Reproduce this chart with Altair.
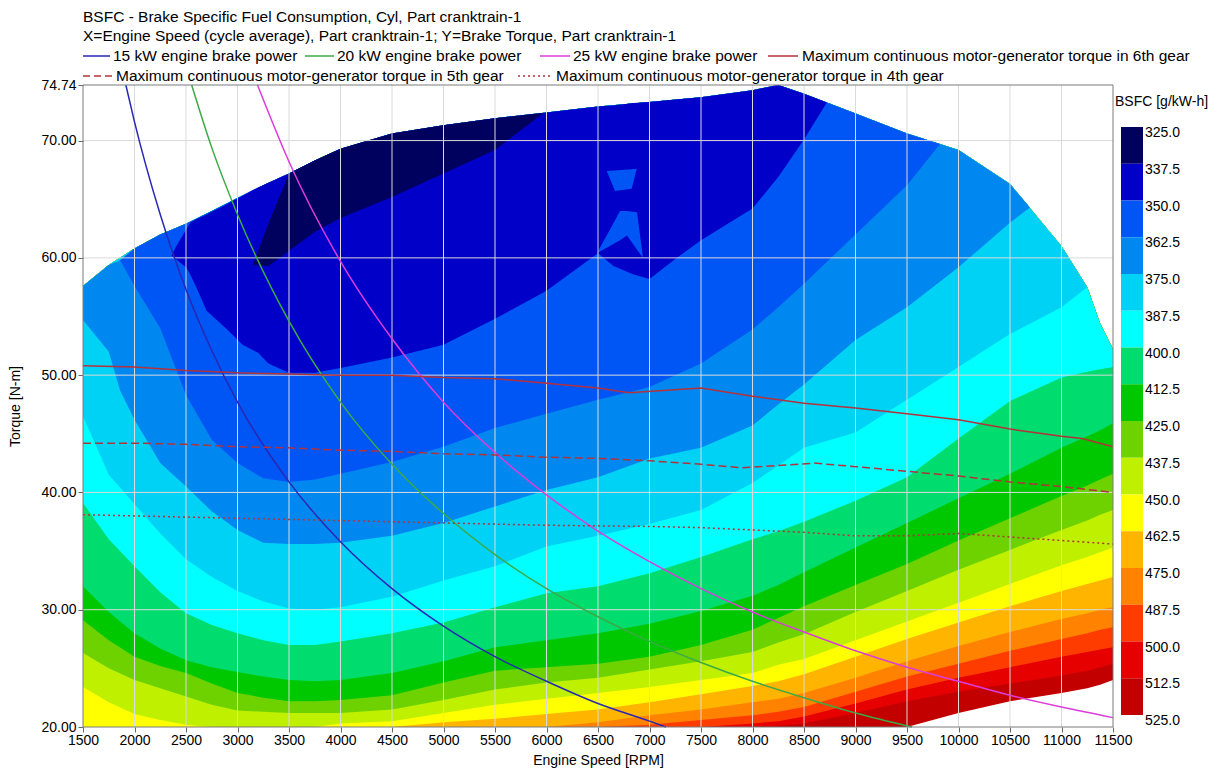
import altair as alt
import pandas as pd

FONT = "Liberation Sans"
PLOT_W, PLOT_H = 1030, 642

# ---------------- axes ----------------
X_TICKS = [1500, 2000, 2500, 3000, 3500, 4000, 4500, 5000, 5500, 6000, 6500,
           7000, 7500, 8000, 8500, 9000, 9500, 10000, 10500, 11000, 11500]
Y_TICKS = [20.0, 30.0, 40.0, 50.0, 60.0, 70.0, 74.74]

# ---------------- colour bar (BSFC g/kW-h) ----------------
LEVELS = [325.0, 337.5, 350.0, 362.5, 375.0, 387.5, 400.0, 412.5, 425.0,
          437.5, 450.0, 462.5, 475.0, 487.5, 500.0, 512.5, 525.0]
COLORS = ["#00005F", "#0000C8", "#0055F5", "#0088F0", "#00D2F5", "#00FFFF",
          "#00DC6E", "#00C800", "#6ED200", "#BEF000", "#FFFF00", "#FFB400",
          "#FF8200", "#FF3C00", "#E60000", "#C30000"]

# ---------------- band boundaries ----------------
RPM = [1500, 1750, 2000, 2250, 2500, 2750, 3000, 3250, 3500, 3750, 4000, 4500,
       5000, 5500, 6000, 6500, 7000, 7500, 8000, 8250, 8500, 9000, 9500, 10000,
       10500, 11000, 11250, 11375, 11500]
ENVELOPE = [57.6, 59.4, 60.8, 62.0, 62.9, 64.0, 65.1, 66.2, 67.2, 68.3, 69.3, 70.6,
            71.3, 71.9, 72.4, 72.9, 73.3, 73.7, 74.3, 74.74, 74.0, 72.3, 70.6, 69.2,
            66.3, 61.0, 57.5, 54.4, 52.2]
FLOOR = [20.0, 20.0, 20.0, 20.0, 20.0, 20.0, 20.0, 20.0, 20.0, 20.0, 20.0, 20.0,
         20.0, 20.0, 20.0, 20.0, 20.0, 20.0, 20.0, 20.0, 20.0, 20.0, 20.0, 21.2,
         22.2, 22.9, 23.3, 23.6, 24.0]
L512 = [20.0, 20.0, 20.0, 20.0, 20.0, 20.0, 20.0, 20.0, 20.0, 20.0, 20.0, 20.0,
        20.0, 20.0, 20.0, 20.0, 20.0, 20.0, 20.0, 20.1, 20.3, 21.2, 22.2, 23.0,
        23.7, 24.4, 24.8, 25.1, 25.4]
L500 = [20.0, 20.0, 20.0, 20.0, 20.0, 20.0, 20.0, 20.0, 20.0, 20.0, 20.0, 20.0,
        20.0, 20.0, 20.0, 20.0, 20.0, 20.0, 20.3, 20.5, 20.9, 22.0, 23.2, 24.2,
        25.1, 26.0, 26.4, 26.6, 26.8]
L487 = [20.0, 20.0, 20.0, 20.0, 20.0, 20.0, 20.0, 20.0, 20.0, 20.0, 20.0, 20.0,
        20.0, 20.0, 20.0, 20.0, 20.2, 20.6, 21.0, 21.3, 21.7, 23.0, 24.3, 25.4,
        26.5, 27.5, 28.0, 28.3, 28.5]
L475 = [20.0, 20.0, 20.0, 20.0, 20.0, 20.0, 20.0, 20.0, 20.0, 20.0, 20.0, 20.0,
        20.0, 20.0, 20.0, 20.4, 21.0, 21.5, 22.1, 22.4, 22.9, 24.2, 25.6, 26.9,
        28.1, 29.2, 29.7, 30.0, 30.2]
L462 = [20.0, 20.0, 20.0, 20.0, 20.0, 20.0, 20.0, 20.0, 20.0, 20.0, 20.0, 20.0,
        20.4, 20.7, 21.1, 21.5, 22.1, 22.8, 23.5, 23.9, 24.5, 26.0, 27.5, 28.9,
        30.3, 31.6, 32.2, 32.5, 32.8]
L450 = [23.4, 22.1, 21.1, 20.6, 20.2, 20.0, 20.0, 20.0, 20.0, 20.0, 20.3, 20.5,
        21.2, 21.9, 22.4, 22.9, 23.4, 24.0, 24.6, 25.3, 25.8, 27.4, 29.0, 30.6,
        32.2, 33.8, 34.5, 34.9, 35.3]
L437 = [26.3, 25.0, 24.0, 23.3, 22.6, 21.9, 21.4, 21.3, 21.2, 21.2, 21.2, 21.5,
        22.3, 23.2, 23.8, 24.2, 24.9, 25.6, 26.4, 27.2, 27.9, 29.8, 31.6, 33.4,
        35.1, 36.8, 37.6, 38.1, 38.5]
L425 = [29.1, 27.4, 26.0, 25.2, 24.6, 23.7, 22.9, 22.5, 22.2, 22.2, 22.3, 22.7,
        23.8, 24.8, 25.1, 25.4, 26.0, 27.0, 28.3, 29.3, 30.3, 32.1, 33.9, 35.9,
        37.8, 39.7, 40.6, 41.1, 41.6]
L412 = [32.0, 29.8, 28.0, 26.7, 25.7, 25.1, 24.7, 24.3, 24.0, 23.9, 24.0, 24.6,
        25.6, 26.8, 27.4, 28.0, 28.8, 29.9, 31.2, 32.1, 33.2, 35.3, 37.4, 39.5,
        41.6, 43.8, 44.8, 45.3, 45.9]
L400 = [39.1, 36.0, 33.7, 31.5, 29.7, 28.7, 28.0, 27.4, 27.0, 27.0, 27.3, 28.0,
        28.9, 30.2, 31.4, 32.0, 33.1, 34.5, 36.0, 36.7, 37.5, 39.3, 41.3, 44.6,
        47.8, 49.8, 50.3, 50.5, 50.7]
L387 = [46.5, 41.5, 39.0, 36.5, 34.3, 32.8, 31.6, 30.7, 30.1, 30.0, 30.2, 31.1,
        32.5, 33.7, 35.4, 36.3, 37.3, 38.5, 40.8, 42.3, 43.8, 45.1, 47.9, 50.7,
        53.5, 55.8, 57.5]

R375_RPM = [1500, 1750, 1860, 2000, 2250, 2500, 2750, 3000, 3250, 3500, 3750, 4000,
            4500, 5000, 5500, 6000, 6500, 7000, 7500, 8000, 8250, 8500, 9000, 9500,
            10000, 10500, 10694]
R375_LO = [54.7, 52.0, 48.7, 46.2, 42.5, 40.5, 38.4, 36.8, 35.7, 35.6, 35.6, 35.7,
           36.3, 37.4, 38.8, 40.2, 41.3, 42.9, 43.8, 45.7, 47.5, 49.2, 53.0, 55.8,
           59.2, 63.0, 64.3]
R375_HI = [57.6, 59.4, 59.8, 60.8, 62.0, 62.9, 64.0, 65.1, 66.2, 67.2, 68.3, 69.3,
           70.6, 71.3, 71.9, 72.4, 72.9, 73.3, 73.7, 74.3, 74.74, 74.0, 72.3, 70.6,
           69.2, 66.3, 64.3]

R362_RPM = [1860, 2000, 2250, 2500, 2750, 3000, 3250, 3500, 3750, 4000, 4500, 5000,
            5500, 6000, 6500, 7000, 7500, 8000, 8250, 8500, 9000, 9500, 9821]
R362_LO = [59.8, 57.6, 54.0, 48.3, 44.5, 42.5, 41.2, 40.9, 41.1, 41.6, 42.6, 43.9,
           45.5, 46.7, 47.9, 49.0, 51.0, 53.9, 55.8, 57.8, 62.0, 66.2, 69.7]
R362_HI = [59.8, 60.8, 62.0, 62.9, 64.0, 65.1, 66.2, 67.2, 68.3, 69.3, 70.6, 71.3,
           71.9, 72.4, 72.9, 73.3, 73.7, 74.3, 74.74, 74.0, 72.3, 70.6, 69.7]

R350_RPM = [2360, 2400, 2500, 2540, 2600, 2700, 2900, 3050, 3200, 3300, 3500, 3750,
            4000, 4500, 5000, 5500, 6000, 6500, 6650, 6840, 7000, 7250, 7500, 8000,
            8250, 8500, 8722]
R350_LO = [60.2, 59.9, 59.2, 58.6, 57.5, 55.5, 53.9, 52.6, 51.9, 51.0, 50.2, 50.2,
           50.6, 51.5, 52.6, 54.8, 57.2, 60.4, 59.3, 58.6, 58.2, 59.9, 61.5, 64.2,
           66.9, 70.1, 73.25]
R350_HI = [60.2, 60.9, 62.4, 63.0, 63.3, 63.7, 64.6, 65.3, 66.0, 66.4, 67.2, 68.3,
           69.3, 70.6, 71.3, 71.9, 72.4, 72.9, 73.0, 73.2, 73.3, 73.5, 73.7, 74.3,
           74.74, 74.0, 73.25]

# two small pockets above 350 inside the 337.5-350 zone
SPIKE_RPM = [6490, 6714, 6782, 6879, 6937]
SPIKE_LO = [60.4, 61.5, 61.9, 60.7, 60.0]
SPIKE_HI = [60.4, 64.0, 64.0, 63.9, 60.0]
POCKET_RPM = [6585, 6665, 6827, 6876]
POCKET_LO = [67.4, 65.7, 65.9, 67.6]
POCKET_HI = [67.4, 67.45, 67.55, 67.6]

R337_RPM = [3150, 3300, 3500, 3750, 4000, 4500, 5000, 5500, 5970]
R337_LO = [59.4, 59.3, 60.6, 62.2, 63.4, 65.2, 67.2, 69.2, 72.35]
R337_HI = [59.4, 62.9, 67.2, 68.3, 69.3, 70.6, 71.3, 71.9, 72.35]

# ---------------- overlay curves ----------------
P15_RPM = [1916, 2000, 2250, 2500, 2750, 3000, 3500, 4000, 4500, 5000, 5500, 6000, 6500, 7000, 7160]
P15_T = [74.74, 71.6, 63.7, 57.3, 52.1, 47.7, 40.9, 35.8, 31.8, 28.6, 26.0, 23.9, 22.0, 20.5, 20.0]
P20_RPM = [2555, 2750, 3000, 3500, 4000, 4500, 5000, 5500, 6000, 6500, 7000, 7500, 8000, 8500, 9000, 9550]
P20_T = [74.74, 69.4, 63.7, 54.6, 47.7, 42.4, 38.2, 34.7, 31.8, 29.4, 27.3, 25.5, 23.9, 22.5, 21.2, 20.0]
P25_RPM = [3194, 3500, 4000, 4500, 5000, 5500, 6000, 6500, 7000, 7500, 8000, 8500, 9000, 9500,
           10000, 10500, 11000, 11500]
P25_T = [74.74, 68.2, 59.7, 53.1, 47.7, 43.4, 39.8, 36.7, 34.1, 31.8, 29.8, 28.1, 26.5, 25.1,
         23.9, 22.7, 21.7, 20.8]
G6_RPM = [1500, 2000, 2500, 3000, 3500, 4000, 4500, 5000, 5500, 6000, 6500, 6800, 7500, 8000,
          8500, 9000, 9500, 10000, 10500, 11000, 11200, 11500]
G6_T = [50.8, 50.7, 50.4, 50.2, 50.1, 50.0, 50.0, 49.8, 49.7, 49.3, 48.9, 48.5, 48.9, 48.2,
        47.6, 47.2, 46.7, 46.2, 45.4, 44.8, 44.6, 43.9]
G5_RPM = [1500, 2000, 2500, 3000, 3500, 4000, 4500, 5000, 5500, 6000, 6500, 7000, 7500, 7900,
          8600, 9000, 9500, 10000, 10500, 11000, 11500]
G5_T = [44.2, 44.2, 44.1, 43.9, 43.8, 43.6, 43.5, 43.3, 43.2, 43.0, 42.9, 42.7, 42.4, 42.1,
        42.5, 42.2, 41.8, 41.4, 40.9, 40.5, 40.0]
G4_RPM = [1500, 2000, 3000, 4000, 5000, 6000, 7000, 7500, 8000, 8500, 9000, 9500, 10000,
          10500, 11000, 11500]
G4_T = [38.1, 38.0, 37.8, 37.6, 37.4, 37.2, 37.1, 37.0, 36.8, 36.6, 36.3, 36.3, 36.5, 36.2,
        35.9, 35.6]

TITLE_1 = "BSFC - Brake Specific Fuel Consumption, Cyl, Part cranktrain-1"
TITLE_2 = "X=Engine Speed (cycle average), Part cranktrain-1; Y=Brake Torque, Part cranktrain-1"
SERIES = ["15 kW engine brake power", "20 kW engine brake power", "25 kW engine brake power",
          "Maximum continuous motor-generator torque in 6th gear",
          "Maximum continuous motor-generator torque in 5th gear",
          "Maximum continuous motor-generator torque in 4th gear"]
C_P15, C_P20, C_P25, C_GEAR = "#2828B4", "#3CAA46", "#DC3CDC", "#B4323C"

# ---------------- scales / axes ----------------
xs = alt.Scale(domain=[X_TICKS[0], X_TICKS[-1]], nice=False, zero=False)
ys = alt.Scale(domain=[Y_TICKS[0], Y_TICKS[-1]], nice=False, zero=False)
x_axis = alt.Axis(values=X_TICKS, format="d", grid=False, domain=False, tickSize=5,
                  tickColor="#666666", labelFontSize=14, labelColor="#000000", labelFont=FONT,
                  labelPadding=1, labelOverlap=False, labelFlush=False, labelBound=False,
                  titleFontSize=14, titleFont=FONT, titleFontWeight="normal",
                  titleColor="#000000", titlePadding=6)
y_axis = alt.Axis(values=Y_TICKS, format=".2f", grid=False, domain=False, tickSize=5,
                  tickColor="#666666", labelFontSize=14, labelColor="#000000", labelFont=FONT,
                  labelPadding=2, labelOverlap=False, labelFlush=False, titleFontSize=14,
                  titleFont=FONT, titleFontWeight="normal", titleColor="#000000", titlePadding=18)
XT, YT = "Engine Speed [RPM]", "Torque [N-m]"


def X(field):
    return alt.X(field, type="quantitative", scale=xs, axis=x_axis, title=XT)


def Y(field):
    return alt.Y(field, type="quantitative", scale=ys, axis=y_axis, title=YT)


def band(xv, lo, hi, color):
    df = pd.DataFrame({"rpm": xv, "lo": lo[:len(xv)], "hi": hi[:len(xv)]})
    return alt.Chart(df).mark_area(color=color, opacity=1, interpolate="linear").encode(
        x=X("rpm"), y=Y("lo"), y2="hi")


def curve(xv, yv, color, dash=None, interp="linear"):
    df = pd.DataFrame({"rpm": xv, "t": yv})
    kw = dict(color=color, strokeWidth=1.5, interpolate=interp)
    if dash:
        kw["strokeDash"] = dash
    return alt.Chart(df).mark_line(**kw).encode(x=X("rpm"), y=Y("t"))


layers = [band(RPM, FLOOR, ENVELOPE, COLORS[15])]
for lo, col in [(L512, 14), (L500, 13), (L487, 12), (L475, 11), (L462, 10), (L450, 9),
                (L437, 8), (L425, 7), (L412, 6), (L400, 5)]:
    layers.append(band(RPM, lo, ENVELOPE, COLORS[col]))
layers.append(band(RPM[:len(L387)], L387, ENVELOPE, COLORS[4]))
layers.append(band(R375_RPM, R375_LO, R375_HI, COLORS[3]))
layers.append(band(R362_RPM, R362_LO, R362_HI, COLORS[2]))
layers.append(band(R350_RPM, R350_LO, R350_HI, COLORS[1]))
layers.append(band(SPIKE_RPM, SPIKE_LO, SPIKE_HI, COLORS[2]))
layers.append(band(POCKET_RPM, POCKET_LO, POCKET_HI, COLORS[2]))
layers.append(band(R337_RPM, R337_LO, R337_HI, COLORS[0]))

# grid lines over the fill
vgrid = pd.DataFrame({"rpm": X_TICKS[1:-1]})
hgrid = pd.DataFrame({"t": Y_TICKS[1:-1]})
layers.append(alt.Chart(vgrid).mark_rule(color="#dadada", strokeWidth=1).encode(x=X("rpm")))
layers.append(alt.Chart(hgrid).mark_rule(color="#dadada", strokeWidth=1).encode(y=Y("t")))

layers += [
    curve(P15_RPM, P15_T, C_P15, interp="monotone"),
    curve(P20_RPM, P20_T, C_P20, interp="monotone"),
    curve(P25_RPM, P25_T, C_P25, interp="monotone"),
    curve(G6_RPM, G6_T, C_GEAR),
    curve(G5_RPM, G5_T, C_GEAR, dash=[8, 4]),
    curve(G4_RPM, G4_T, C_GEAR, dash=[2, 3]),
]

# frame
vb = pd.DataFrame({"rpm": [X_TICKS[0], X_TICKS[-1]]})
hb = pd.DataFrame({"t": [Y_TICKS[0], Y_TICKS[-1]]})
layers.append(alt.Chart(vb).mark_rule(color="#7a7a7a", strokeWidth=1).encode(x=X("rpm")))
layers.append(alt.Chart(hb).mark_rule(color="#7a7a7a", strokeWidth=1).encode(y=Y("t")))

ONE = pd.DataFrame({"k": [0]})
HF = 15.5


def text(s, x, y, size=HF, align="left", baseline="middle"):
    return alt.Chart(ONE).mark_text(text=s, align=align, baseline=baseline, fontSize=size,
                                    font=FONT, color="#000000").encode(
        x=alt.value(x), y=alt.value(y))


def seg(x1, x2, y, color, dash=None):
    kw = dict(color=color, strokeWidth=1.5)
    if dash:
        kw["strokeDash"] = dash
    return alt.Chart(ONE).mark_rule(**kw).encode(x=alt.value(x1), x2=alt.value(x2), y=alt.value(y))


layers += [
    text(TITLE_1, 0, -68),
    text(TITLE_2, 0, -49),
    seg(0, 27, -29, C_P15), text(SERIES[0], 30, -29),
    seg(222, 251, -29, C_P20), text(SERIES[1], 254, -29),
    seg(457, 487, -29, C_P25), text(SERIES[2], 490, -29),
    seg(685, 715, -29, C_GEAR), text(SERIES[3], 719, -29),
    seg(0, 31, -9, C_GEAR, [7, 4]), text(SERIES[4], 33, -9),
    seg(435, 469, -9, C_GEAR, [2, 3]), text(SERIES[5], 473, -9),
]

main = alt.layer(*layers).properties(width=PLOT_W, height=PLOT_H)

# ---------------- colour bar ----------------
cbs = alt.Scale(domain=[310.71, 529.08], reverse=True, nice=False, zero=False)
cb_df = pd.DataFrame({"lo": LEVELS[:-1], "hi": LEVELS[1:], "color": COLORS})
lab_df = pd.DataFrame({"level": LEVELS})
cbar = alt.layer(
    alt.Chart(cb_df).mark_rect().encode(
        y=alt.Y("lo:Q", scale=cbs, axis=None), y2="hi:Q",
        x=alt.value(0), x2=alt.value(22), color=alt.Color("color:N", scale=None)),
    alt.Chart(lab_df).mark_text(align="left", baseline="top", fontSize=14, font=FONT,
                                color="#000000", dy=-1).encode(
        y=alt.Y("level:Q", scale=cbs, axis=None), x=alt.value(24),
        text=alt.Text("level:Q", format=".1f")),
    alt.Chart(ONE).mark_text(text="BSFC [g/kW-h]", align="left", baseline="middle",
                             fontSize=14, font=FONT, color="#000000").encode(
        x=alt.value(-6), y=alt.value(17)),
).properties(width=22, height=PLOT_H)

chart = alt.hconcat(main, cbar, spacing=8, bounds="flush").properties(
    padding={"left": 0, "top": 2, "right": 4, "bottom": 2},
).configure(font=FONT, background="white").configure_view(strokeWidth=0)

chart.save("out.html", embed_options={"renderer": "svg", "actions": False})
